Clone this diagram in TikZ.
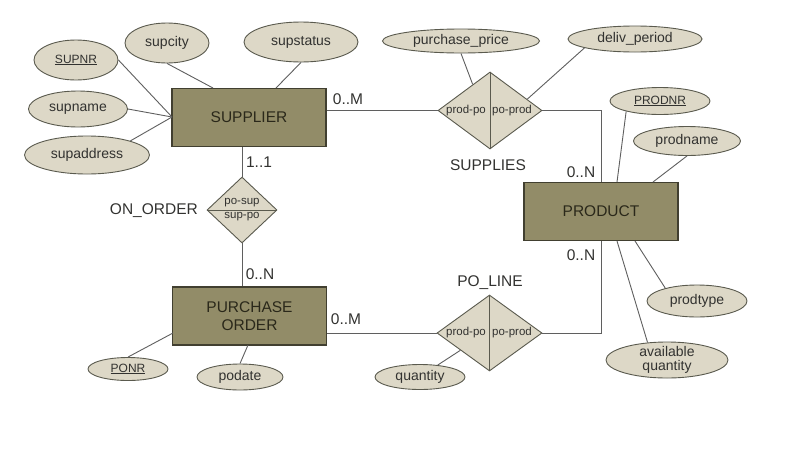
\documentclass[tikz,border=0pt]{standalone}
\usepackage{fontspec}
\setmainfont{Liberation Sans}
\usetikzlibrary{shapes.geometric,calc}
\definecolor{boxfill}{RGB}{146,140,104}
\definecolor{boxline}{RGB}{65,63,48}
\definecolor{attrfill}{RGB}{221,216,199}
\definecolor{attrline}{RGB}{90,90,78}
\definecolor{lnc}{RGB}{95,95,95}
\definecolor{txt}{RGB}{50,50,48}
\definecolor{boxtxt}{RGB}{42,40,26}
\begin{document}
\begin{tikzpicture}[x=1pt,y=-1pt,
 entity/.style={draw=boxline,fill=boxfill,line width=1.2pt,minimum width=154pt,minimum height=58pt,inner sep=0pt,text=boxtxt,font=\fontsize{15.5}{18}\selectfont,align=center},
 attr/.style={ellipse,draw=attrline,fill=attrfill,line width=0.9pt,inner sep=0pt,text=txt,font=\fontsize{14}{14}\selectfont,align=center},
 keyattr/.style={attr,font=\fontsize{12}{12}\selectfont},
 rel/.style={diamond,draw=attrline,fill=attrfill,line width=0.9pt,inner sep=0pt},
 lbl/.style={text=txt,font=\fontsize{15.5}{18}\selectfont,inner sep=0pt},
 rlbl/.style={text=txt,font=\fontsize{11.5}{12}\selectfont,inner sep=0pt},
 conn/.style={draw=lnc,line width=0.9pt}]
\fill[white] (0,0) rectangle (793,461);
\useasboundingbox (0,0) rectangle (793,461);

% connector end points on boxes
\coordinate (cSC) at (213,88);
\coordinate (cSS) at (276,88);
\coordinate (cSL) at (172,117);
\coordinate (cPN) at (617,182);
\coordinate (cPM) at (653,182);
\coordinate (cPT) at (635,241);
\coordinate (cPA) at (617,241);
\coordinate (cPO1) at (173,333);
\coordinate (cPO2) at (248,345);

% relationships
\node[rel,minimum width=104pt,minimum height=77pt] (sp) at (490,110.5) {};
\node[rel,minimum width=105pt,minimum height=76pt] (pl) at (489.5,333) {};
\node[rel,minimum width=70pt,minimum height=66pt] (oo) at (242,210) {};

% entities
\node[entity] (sup) at (249,117.5) {SUPPLIER};
\node[entity] (prod) at (601,211.5) {PRODUCT};
\node[entity] (po) at (249.5,316) {PURCHASE\\ORDER};

% attributes
\node[keyattr,minimum width=84pt,minimum height=40pt] (supnr) at (76,60) {\underline{SUPNR}};
\node[attr,minimum width=84pt,minimum height=40pt] (supcity) at (167,43) {supcity};
\node[attr,minimum width=114pt,minimum height=40pt] (supstatus) at (301,42) {supstatus};
\node[attr,minimum width=99pt,minimum height=36pt] (supname) at (78,109) {supname};
\node[attr,minimum width=125pt,minimum height=38pt] (supaddress) at (87,155) {supaddress};
\node[attr,minimum width=157pt,minimum height=24pt] (pp) at (461,41) {purchase\_price};
\node[attr,minimum width=134pt,minimum height=26pt] (dp) at (635,39) {deliv\_period};
\node[keyattr,minimum width=100pt,minimum height=27pt] (prodnr) at (660,101) {\underline{PRODNR}};
\node[attr,minimum width=107pt,minimum height=29pt] (prodname) at (687,141) {prodname};
\node[attr,minimum width=100pt,minimum height=32pt] (prodtype) at (697,301) {prodtype};
\node[attr,minimum width=122pt,minimum height=36pt,inner sep=-2pt] (aq) at (667,360) {available\\quantity};
\node[attr,minimum width=90pt,minimum height=25pt] (qty) at (420,377) {quantity};
\node[keyattr,minimum width=80pt,minimum height=23pt] (ponr) at (128,369) {\underline{PONR}};
\node[attr,minimum width=86pt,minimum height=26pt] (podate) at (240,377) {podate};

% relationship dividers and role labels
\draw[draw=attrline,line width=0.9pt] (sp.north) -- (sp.south);
\draw[draw=attrline,line width=0.9pt] (pl.north) -- (pl.south);
\draw[draw=attrline,line width=0.9pt] (oo.west) -- (oo.east);
\node[rlbl] (sp1) at (466,110.5) {prod-po};
\node[rlbl] (sp2) at (512,110.5) {po-prod};
\node[rlbl] (pl1) at (466,333) {prod-po};
\node[rlbl] (pl2) at (512,333) {po-prod};
\node[rlbl] (oo1) at (242,203) {po-sup};
\node[rlbl] (oo2) at (242,217) {sup-po};

% connectors
\draw[conn] (supcity.south) -- (cSC);
\draw[conn] (supstatus.south) -- (cSS);
\draw[conn] (supnr.east) -- (cSL);
\draw[conn] (supname.east) -- (cSL);
\draw[conn] (supaddress.18) -- (cSL);
\draw[conn] (sup.east |- sp.west) -- (sp.west);
\draw[conn] (sp.east) -| (prod.north);
\draw[conn] (pp.south) -- ($(sp.north)!0.33!(sp.west)$);
\draw[conn] (dp.190) -- ($(sp.north)!0.71!(sp.east)$);
\draw[conn] (prodnr.197) -- (cPN);
\draw[conn] (prodname.south) -- (cPM);
\draw[conn] (prodtype.158) -- (cPT);
\draw[conn] (aq.138) -- (cPA);
\draw[conn] (prod.south) |- (pl.east);
\draw[conn] (po.east |- pl.west) -- (pl.west);
\draw[conn] (qty.34) -- ($(pl.west)!0.45!(pl.south)$);
\draw[conn] (oo.north) -- (oo.north |- sup.south);
\draw[conn] (oo.south) -- (oo.south |- po.north);
\draw[conn] (ponr.north) -- (cPO1);
\draw[conn] (podate.north) -- (cPO2);

% labels
\node[lbl] (m1) at (348,99) {0..M};
\node[lbl] (c11) at (259,162) {1..1};
\node[lbl,anchor=east] (onorder) at (198,211) {ON\_ORDER};
\node[lbl] (n1) at (260,274) {0..N};
\node[lbl] (m2) at (346,319) {0..M};
\node[lbl] (supplies) at (488,165) {SUPPLIES};
\node[lbl] (n2) at (581,172) {0..N};
\node[lbl] (n3) at (581,255) {0..N};
\node[lbl] (poline) at (490,283) {PO\_LINE};
\end{tikzpicture}
\end{document}
